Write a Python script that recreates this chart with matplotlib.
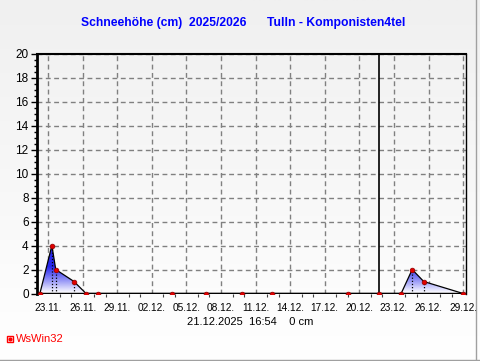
import matplotlib
matplotlib.use("Agg")
import matplotlib.pyplot as plt
import matplotlib.dates as mdates
import matplotlib.transforms as mtransforms
from matplotlib.colors import LinearSegmentedColormap, Normalize
from matplotlib.lines import Line2D
from datetime import datetime
import numpy as np

TITLE_LEFT = "Schneehöhe (cm)  2025/2026"
TITLE_RIGHT = "Tulln - Komponisten4tel"
STAMP = "21.12.2025  16:54    0 cm"
NOW = "2025-12-21 16:54"

times = ["2025-11-22 07:00", "2025-11-23 08:00", "2025-11-23 16:00",
         "2025-11-25 06:00", "2025-11-26 07:00", "2025-11-27 07:00",
         "2025-12-03 19:00", "2025-12-06 16:00", "2025-12-09 20:00",
         "2025-12-12 10:00", "2025-12-19 00:00", "2025-12-21 16:54",
         "2025-12-23 15:00", "2025-12-24 14:00", "2025-12-25 14:00",
         "2025-12-29 00:00"]
snow = [0, 4, 2, 1, 0, 0, 0, 0, 0, 0, 0, 0, 0, 2, 1, 0]

tick_days = ["2025-11-23", "2025-11-26", "2025-11-29", "2025-12-02",
             "2025-12-05", "2025-12-08", "2025-12-11", "2025-12-14",
             "2025-12-17", "2025-12-20", "2025-12-23", "2025-12-26",
             "2025-12-29"]
x_start = "2025-11-22 01:00"
x_end = "2025-12-29 06:00"

plt.rcParams['font.family'] = ['Liberation Sans', 'DejaVu Sans']

W, H = 481, 361
fig = plt.figure(figsize=(W / 100, H / 100), dpi=100)

# background gradient for whole figure
bg = fig.add_axes([0, 0, 1, 1], zorder=-10)
grad = np.linspace(0, 1, 256).reshape(-1, 1)
bgcmap = LinearSegmentedColormap.from_list("bg", ["#f0f0f0", "#ffffff"])
bg.imshow(grad, aspect='auto', cmap=bgcmap, extent=[0, 1, 0, 1], origin='upper')
bg.set_xlim(0, 1)
bg.set_ylim(0, 1)
bg.axis('off')
bg.plot([476 / W, 476 / W], [0, 1], color="#a0a0a0", lw=1)
bg.plot([0, 1], [1.5 / H, 1.5 / H], color="#a0a0a0", lw=1)

left, right, top, bottom = 37, 466, 53.5, 293.5
ax = fig.add_axes([left / W, 1 - bottom / H, (right - left) / W, (bottom - top) / H])
ax.patch.set_alpha(0)

t = [datetime.strptime(s, "%Y-%m-%d %H:%M") for s in times]
tn = mdates.date2num(t)
v = np.array(snow, dtype=float)

# gradient fill under the curve: white at 0, strong blue from ~2 cm up
fillcmap = LinearSegmentedColormap.from_list("fill", ["#ffffff", "#9090f6", "#2828ee"])
ymax = v.max()
yy = np.linspace(ymax, 0, 256).reshape(-1, 1)
poly = ax.fill_between(tn, 0, v, color='none', lw=0)
im = ax.imshow(yy, aspect='auto', cmap=fillcmap, norm=Normalize(0, 2.2),
               extent=[tn[0], tn[-1], 0, ymax], origin='upper', zorder=1)
im.set_clip_path(poly.get_paths()[0], transform=ax.transData)

for x, y in zip(tn, v):
    if y > 0:
        ax.plot([x, x], [0, y], color='black', lw=0.9, ls=(0, (1, 1.5)), zorder=3)

ax.plot(tn, v, color='black', lw=0.9, zorder=4)
ax.axhline(0, color='black', lw=2.5, zorder=5)
ax.plot(tn, v, 'o', ms=3.4, mfc='#e00000', mec='#900000', mew=0.5, zorder=6)

now = mdates.date2num(datetime.strptime(NOW, "%Y-%m-%d %H:%M"))
ax.axvline(now, color='black', lw=1.2, zorder=5)

ax.set_xlim(mdates.date2num(datetime.strptime(x_start, "%Y-%m-%d %H:%M")),
            mdates.date2num(datetime.strptime(x_end, "%Y-%m-%d %H:%M")))
ax.set_ylim(0, 20)

ticks = [mdates.date2num(datetime.strptime(s, "%Y-%m-%d")) for s in tick_days]
ax.set_xticks(ticks)
ax.set_xticklabels([datetime.strptime(s, "%Y-%m-%d").strftime("%d.%m.") for s in tick_days],
                   fontsize=7.3)
shift = mtransforms.ScaledTranslation(-5 / 100, 0, fig.dpi_scale_trans)
for lab in ax.get_xticklabels():
    lab.set_transform(lab.get_transform() + shift)
ax.xaxis.set_minor_locator(mdates.DayLocator())
ax.set_yticks(range(0, 21, 2))
ax.set_yticks(np.arange(0, 20.01, 0.5), minor=True)
ax.tick_params(axis='y', which='major', length=4, width=1, labelsize=8.5, pad=2)
ax.tick_params(axis='y', which='minor', length=2, width=1)
ax.tick_params(axis='x', which='major', length=0, pad=7)
ax.tick_params(axis='x', which='minor', length=2.5, width=0.8, color='#404040')

ax.grid(True, color='#808080', ls=(0, (3.5, 2.5)), lw=1)
ax.set_axisbelow(True)

ax.spines['left'].set_linewidth(2)
ax.spines['top'].set_linewidth(1.5)
ax.spines['right'].set_linewidth(1)
ax.spines['bottom'].set_visible(False)

fig.text(81 / W, 1 - 23 / H, TITLE_LEFT, color='#0000ff', fontsize=8.7,
         fontweight='bold', ha='left', va='center')
fig.text(267 / W, 1 - 23 / H, TITLE_RIGHT, color='#0000ff', fontsize=8.7,
         fontweight='bold', ha='left', va='center')
fig.text(250 / W, 1 - 322 / H, STAMP, fontsize=8, ha='center', va='center')

fig.add_artist(Line2D([10 / W], [1 - 339 / H], marker='s', ms=5, mfc='none',
                      mec='#ff0000', mew=1, transform=fig.transFigure))
fig.add_artist(Line2D([10 / W], [1 - 339 / H], marker='o', ms=2, mfc='#ff0000',
                      mec='#ff0000', transform=fig.transFigure))
fig.text(16 / W, 1 - 339 / H, "WsWin32", color='#ff0000', fontsize=8,
         ha='left', va='center')

fig.savefig("out.png", dpi=100)
